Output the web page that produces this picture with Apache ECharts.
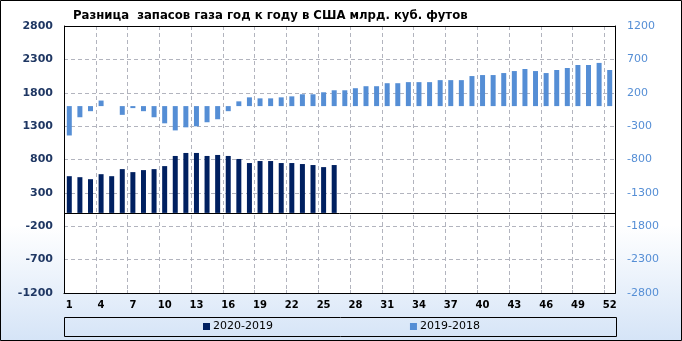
<!DOCTYPE html>
<html>
<head>
<meta charset="utf-8">
<script src="https://cdn.jsdelivr.net/npm/echarts@6/dist/echarts.min.js"></script>
<style>
html,body{margin:0;padding:0;background:#fff;}
#wrap{position:relative;width:682px;height:341px;background:linear-gradient(to bottom,#ffffff 0%,#ffffff 66%,#d5e4f7 100%);}
#plotbg{position:absolute;left:64px;top:26px;width:551px;height:267px;background:#ffffff;}
#chart{position:absolute;left:0;top:0;width:682px;height:341px;}
</style>
</head>
<body>
<div id="wrap"><div id="plotbg"></div><div id="chart"></div></div>
<script>
const titleText = 'Разница  запасов газа год к году в США млрд. куб. футов';
const categories = ['1','2','3','4','5','6','7','8','9','10','11','12','13','14','15','16','17','18','19','20','21','22','23','24','25','26','27','28','29','30','31','32','33','34','35','36','37','38','39','40','41','42','43','44','45','46','47','48','49','50','51','52'];
const seriesNames = ['2020-2019', '2019-2018'];
const diff2020_2019 = [550, 535, 505, 580, 550, 656, 611, 641, 656, 701, 853, 898, 898, 853, 868, 853, 808, 747, 777, 777, 747, 747, 732, 717, 686, 717];
const diff2019_2018 = [-440, -167, -76, 83, 0, -131, -30, -76, -167, -258, -364, -318, -303, -242, -197, -76,
  71, 131, 116, 116, 131, 146, 177, 177, 207, 237, 237, 268, 298, 298, 343, 343, 359, 359, 359,
  389, 389, 389, 450, 465, 465, 495, 525, 556, 525, 495, 541, 571, 616, 616, 647, 541];
const leftAxisRange = [-1200, 2800, 500];
const rightAxisRange = [-2800, 1200, 500];

const FONT = 'DejaVu Sans';
const GRID_COLOR = 'rgb(178,180,190)';
const plainNum = function (v) { return String(v); };
const chart = echarts.init(document.getElementById('chart'), null, {renderer: 'canvas'});
chart.setOption({
  animation: false,
  backgroundColor: 'transparent',
  title: {
    text: titleText,
    left: 68, top: 5,
    textStyle: {fontFamily: FONT, fontWeight: 'bold', fontSize: 11.7, color: '#000'}
  },
  graphic: [
    {type: 'rect', z: 100, shape: {x: 0.5, y: 0.5, width: 681, height: 340}, style: {fill: 'none', stroke: '#000', lineWidth: 1}, silent: true},
    {type: 'rect', z: 100, shape: {x: 64.5, y: 26.5, width: 551, height: 267}, style: {fill: 'none', stroke: '#000', lineWidth: 1}, silent: true},
    {type: 'rect', z: 100, shape: {x: 64.5, y: 317.5, width: 552, height: 19}, style: {fill: 'none', stroke: '#000', lineWidth: 1}, silent: true}
  ],
  legend: {
    left: 203, top: 321,
    itemWidth: 7, itemHeight: 7, itemGap: 137,
    icon: 'rect',
    padding: 0,
    textStyle: {fontFamily: FONT, fontSize: 11, color: '#000', padding: [0, 0, 0, -2]},
    data: seriesNames
  },
  grid: {
    left: 64, right: 67, top: 26, bottom: 48
  },
  xAxis: {
    type: 'category',
    data: categories,
    axisLine: {show: true, onZero: false, lineStyle: {color: '#000'}},
    axisTick: {show: true, inside: true, length: 3, interval: 2, lineStyle: {color: GRID_COLOR}},
    axisLabel: {interval: 2, margin: 7, fontFamily: FONT, fontWeight: 'bold', fontSize: 10, color: '#000'},
    splitLine: {show: true, interval: 2, lineStyle: {color: GRID_COLOR, type: [4, 3], width: 1}}
  },
  yAxis: [
    {
      type: 'value', position: 'left',
      min: leftAxisRange[0], max: leftAxisRange[1], interval: leftAxisRange[2],
      axisLine: {show: true, lineStyle: {color: '#000'}},
      axisTick: {show: true, length: 0},
      axisLabel: {margin: 11, fontFamily: FONT, fontWeight: 'bold', fontSize: 11, color: '#1f3763', formatter: plainNum},
      splitLine: {show: true, lineStyle: {color: GRID_COLOR, type: [4, 3], width: 1}}
    },
    {
      type: 'value', position: 'right',
      min: rightAxisRange[0], max: rightAxisRange[1], interval: rightAxisRange[2],
      axisLine: {show: true, lineStyle: {color: '#000'}},
      axisTick: {show: false},
      axisLabel: {margin: 12, fontFamily: FONT, fontSize: 11, color: '#558ed5', formatter: plainNum},
      splitLine: {show: false}
    }
  ],
  series: [
    {
      name: seriesNames[0], type: 'bar', yAxisIndex: 0,
      data: diff2020_2019, barWidth: 5, barGap: '-100%',
      itemStyle: {color: '#002060'},
      markLine: {
        silent: true, symbol: 'none',
        label: {show: false},
        lineStyle: {color: '#000', type: 'solid', width: 1},
        data: [{yAxis: 0}]
      },
      z: 3
    },
    {
      name: seriesNames[1], type: 'bar', yAxisIndex: 1,
      data: diff2019_2018, barWidth: 5, barGap: '-100%',
      itemStyle: {color: '#558ed5'},
      z: 2
    }
  ]
});
</script>
</body>
</html>
